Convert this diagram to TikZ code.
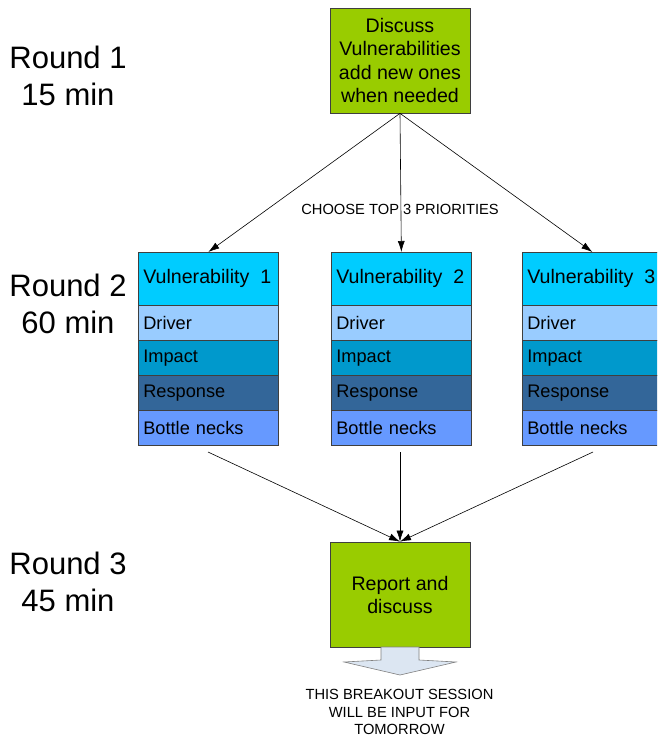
\documentclass[tikz,border=0pt]{standalone}
\usepackage{fontspec}
\setmainfont{Liberation Sans}
\usetikzlibrary{arrows.meta}
\definecolor{grn}{HTML}{99CC00}
\definecolor{hdrc}{HTML}{00CCFF}
\definecolor{drv}{HTML}{99CCFF}
\definecolor{imp}{HTML}{0099CC}
\definecolor{rsp}{HTML}{336699}
\definecolor{btl}{HTML}{6699FF}
\definecolor{bord}{HTML}{3F3F3F}
\definecolor{bafill}{HTML}{DCE6F2}
\begin{document}
\begin{tikzpicture}[x=1pt,y=-1pt,
  lbl/.style={font=\fontsize{31}{37}\selectfont, align=center, inner sep=0pt},
  greenbox/.style={draw=bord, fill=grn, minimum width=140pt, minimum height=105pt, align=center, inner sep=0pt, line width=0.7pt},
  hdr/.style={draw=bord, fill=hdrc, minimum height=53pt, anchor=north west, text width=130pt, inner xsep=5pt, inner ysep=0pt, align=left, font=\fontsize{19.6}{22}\selectfont, line width=0.7pt},
  rowbox/.style={draw=bord, minimum height=35pt, anchor=north west, text width=130pt, inner xsep=5pt, inner ysep=0pt, align=left, font=\fontsize{18.2}{20}\selectfont, line width=0.7pt},
  conn/.style={-{Latex[length=11pt,width=7pt]}, line width=0.6pt},
  small/.style={font=\fontsize{14.7}{17.5}\selectfont, align=center, inner sep=0pt}
]
\path[use as bounding box, fill=white] (0,0) rectangle (657,737);
\clip (0,0) rectangle (657,737);

% round labels
\node[lbl] (r1) at (68,76) {Round 1\\15 min};
\node[lbl] (r2) at (68,304) {Round 2\\60 min};
\node[lbl] (r3) at (68,582) {Round 3\\45 min};

% top box
\node[greenbox, font=\fontsize{19.6}{23.5}\selectfont] (top) at (400,60.5) {Discuss\\Vulnerabilities\\add new ones\\when needed};

% vulnerability stacks
\foreach \i/\x in {1/138,2/331,3/522}{
  \node[hdr] (v\i h) at (\x,252) {Vulnerability\hspace{11pt}\i};
  \node[rowbox, fill=drv] (v\i d) at (\x,305) {Driver};
  \node[rowbox, fill=imp] (v\i i) at (\x,340) {Impact};
  \node[rowbox, fill=rsp] (v\i r) at (\x,375) {Response};
  \node[rowbox, fill=btl] (v\i b) at (\x,410) {Bottle necks};
}

\node[small] (choose) at (400,209) {CHOOSE TOP 3 PRIORITIES};

% report box
\node[greenbox, font=\fontsize{19.6}{23}\selectfont] (rep) at (400,594.5) {Report and\\discuss};

% arrows from top
\draw[conn] (top.south) -- (v1h.north);
\draw[conn] (top.south) -- (v2h.north);
\draw[conn] (top.south) -- (v3h.north);

% arrows to report
\coordinate (s1) at (208,452);
\coordinate (s2) at (400,452);
\coordinate (s3) at (593,452);
\draw[conn] (s1) -- (rep.north);
\draw[conn] (s2) -- (rep.north);
\draw[conn] (s3) -- (rep.north);

% block arrow
\draw[draw=gray, fill=bafill, line width=0.6pt] (381,647) -- (419,647) -- (419,660) -- (456,662) -- (400,675) -- (344,662) -- (381,660) -- cycle;

\node[small] (note) at (399.5,712) {THIS BREAKOUT SESSION\\WILL BE INPUT FOR\\TOMORROW};
\end{tikzpicture}
\end{document}
